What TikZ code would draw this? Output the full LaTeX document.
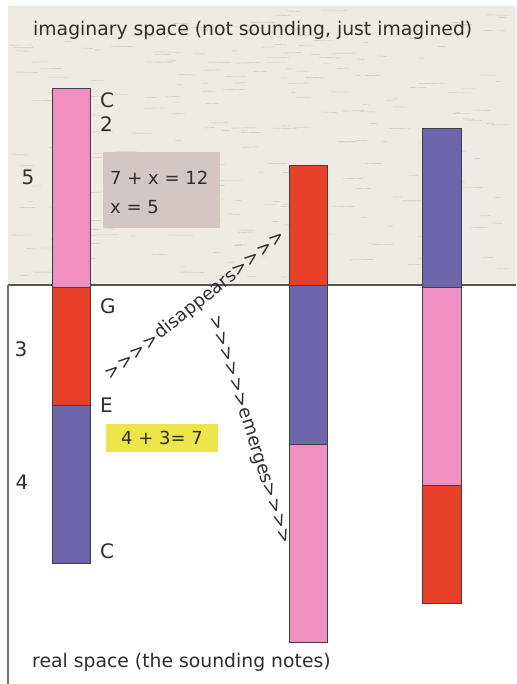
\documentclass[tikz,border=0pt]{standalone}
\usepackage{fontspec}
\setmainfont{DejaVu Sans}
\definecolor{pinkc}{HTML}{EE8FBF}
\definecolor{redc}{HTML}{E8412A}
\definecolor{purplec}{HTML}{6E65AA}
\definecolor{grayboxc}{HTML}{D5C6C6}
\definecolor{yellowc}{HTML}{EEE54A}
\definecolor{beigec}{HTML}{EEEBE2}
\definecolor{txtc}{HTML}{2E2E2E}
\definecolor{linec}{HTML}{555555}
\newcommand\chv{\hbox{>}\kern1pt}
\tikzset{
  seg/.style={draw=black!75, line width=0.8pt},
  lbl/.style={text=txtc, font=\fontsize{20}{20}\selectfont, inner sep=0pt, anchor=west},
  num/.style={text=txtc, font=\fontsize{20}{20}\selectfont, inner sep=0pt},
  eqtext/.style={text=txtc, font=\fontsize{18}{18}\selectfont, inner sep=0pt},
  captext/.style={text=txtc, font=\fontsize{18.8}{20}\selectfont, inner sep=0pt, anchor=west},
  flow/.style={text=txtc, font=\fontsize{18}{18}\selectfont, inner sep=0pt},
}
\begin{document}
\begin{tikzpicture}[x=1pt,y=-1pt]
\useasboundingbox (0,0) rectangle (516,684);
\fill[white] (0,0) rectangle (516,684);
% imaginary region
\fill[beigec] (8,6) rectangle (516,285);
\pgfmathsetseed{7}
\foreach \i in {1,...,260}{
  \pgfmathsetmacro{\xa}{10+rnd*490}
  \pgfmathsetmacro{\ya}{10+rnd*270}
  \pgfmathsetmacro{\ln}{4+rnd*22}
  \draw[black!22, line width=0.4pt] (\xa,\ya) -- ++(\ln,{rnd*1.2-0.6});
}
\draw[linec, line width=1.8pt] (8,285) -- (516,285);
\draw[black!55, line width=1.6pt] (8,285) -- (8,684);
% labels
\node[captext] (top) at (33,30) {imaginary space (not sounding, just imagined)};
\node[captext] (bot) at (32,662) {real space (the sounding notes)};
% bar 1
\node[seg, fill=pinkc, minimum width=38pt, minimum height=199pt, inner sep=0pt, anchor=north west] (b1a) at (52,88) {};
\node[seg, fill=redc, minimum width=38pt, minimum height=118pt, inner sep=0pt, anchor=north west] (b1b) at (52,287) {};
\node[seg, fill=purplec, minimum width=38pt, minimum height=158pt, inner sep=0pt, anchor=north west] (b1c) at (52,405) {};
% bar 2
\node[seg, fill=redc, minimum width=38pt, minimum height=120pt, inner sep=0pt, anchor=north west] (b2a) at (289,165) {};
\node[seg, fill=purplec, minimum width=38pt, minimum height=159pt, inner sep=0pt, anchor=north west] (b2b) at (289,285) {};
\node[seg, fill=pinkc, minimum width=38pt, minimum height=198pt, inner sep=0pt, anchor=north west] (b2c) at (289,444) {};
% bar 3
\node[seg, fill=purplec, minimum width=39pt, minimum height=159pt, inner sep=0pt, anchor=north west] (b3a) at (422,128) {};
\node[seg, fill=pinkc, minimum width=39pt, minimum height=198pt, inner sep=0pt, anchor=north west] (b3b) at (422,287) {};
\node[seg, fill=redc, minimum width=39pt, minimum height=118pt, inner sep=0pt, anchor=north west] (b3c) at (422,485) {};
% note labels
\node[lbl] (lC1) at (100,100) {C};
\node[lbl] (l2) at (100,124) {2};
\node[lbl] (lG) at (100,306) {G};
\node[lbl] (lE) at (100,405) {E};
\node[lbl] (lC2) at (100,551) {C};
\node[num] (n5) at (28,177) {5};
\node[num] (n3) at (21,349) {3};
\node[num] (n4) at (22,482) {4};
% boxes
\node[fill=grayboxc, minimum width=117pt, minimum height=76pt, anchor=north west, inner sep=0pt] (gbox) at (103,152) {};
\node[eqtext, anchor=west] (eq1) at (110,178) {7 + x = 12};
\node[eqtext, anchor=west] (eq2) at (110,207) {x = 5};
\node[fill=yellowc, minimum width=112pt, minimum height=28pt, inner sep=0pt, anchor=north west] (ybox) at (106,424) {};
\node[eqtext, anchor=center] (eq3) at (162,438) {4 + 3= 7};
% flows
\node[flow, rotate=39] (dis) at (196,305) {\chv\chv\chv\chv disappears\chv\chv\chv\chv};
\node[flow, rotate=-72.5] (emg) at (249,431) {\chv\chv\chv\chv\chv\chv emerges\chv\chv\chv\chv};
\end{tikzpicture}
\end{document}
